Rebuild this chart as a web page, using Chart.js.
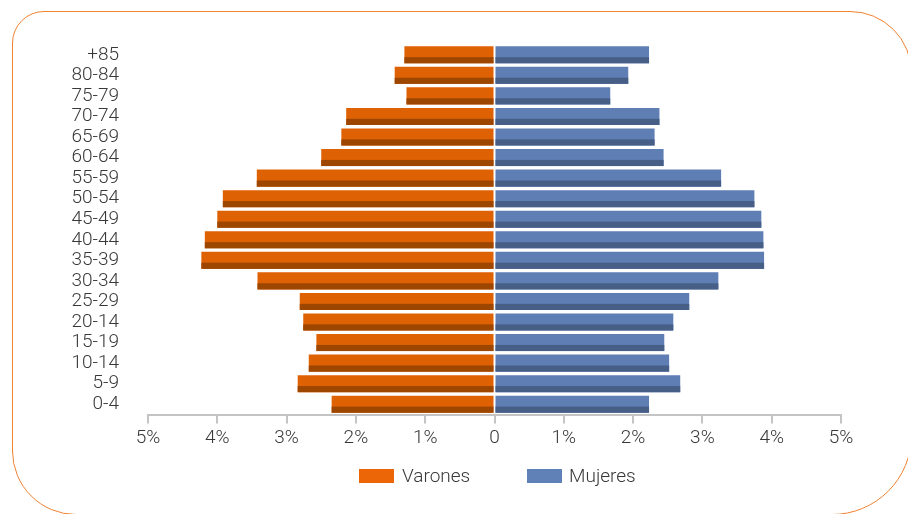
<!DOCTYPE html>
<html>
<head>
<meta charset="utf-8">
<script src="https://cdn.jsdelivr.net/npm/chart.js@4/dist/chart.umd.min.js"></script>
<style>
  html, body { margin: 0; padding: 0; background: #ffffff; }
  #wrap { position: relative; width: 908px; height: 514px; overflow: hidden; background: #fff; }
  #c { position: absolute; left: 0; top: 0; }
  #frame { position: absolute; left: 12px; top: 11px; width: 898px; height: 502px;
           border: 1.6px solid #F08232; border-radius: 32px 62px 80px 64px; pointer-events: none; }
  .lg { position: absolute; font-family: Roboto, "DejaVu Sans", sans-serif; font-weight: 300; font-size: 19px; color: #383838; line-height: 20px; }
  .sw { position: absolute; width: 35px; height: 14px; }
</style>
</head>
<body>
<div id="wrap">
  <canvas id="c" width="908" height="514"></canvas>
  <div id="frame"></div>
  <div class="sw" id="sw0" style="left:359px; top:469px;"></div>
  <div class="lg" id="lg0" style="left:402px; top:466px;"></div>
  <div class="sw" id="sw1" style="left:527px; top:469px;"></div>
  <div class="lg" id="lg1" style="left:569px; top:466px;"></div>
</div>
<script>
// ---- data ----
const categories = ["+85","80-84","75-79","70-74","65-69","60-64","55-59","50-54","45-49","40-44","35-39","30-34","25-29","20-14","15-19","10-14","5-9","0-4"];
const seriesNames = ["Varones", "Mujeres"];
const varones = [1.30, 1.44, 1.27, 2.14, 2.21, 2.50, 3.43, 3.92, 4.00, 4.18, 4.23, 3.42, 2.81, 2.76, 2.57, 2.68, 2.84, 2.35];
const mujeres = [2.23, 1.93, 1.67, 2.38, 2.31, 2.44, 3.27, 3.75, 3.85, 3.88, 3.89, 3.23, 2.81, 2.58, 2.45, 2.52, 2.68, 2.23];
const xTicks = [-5, -4, -3, -2, -1, 0, 1, 2, 3, 4, 5];

// ---- styles ----
const ORANGE = "#DE6104", ORANGE_DARK = "#9C4600";
const BLUE = "#5E7EB4", BLUE_DARK = "#475F87";
const LEG_ORANGE = "#EC6608", LEG_BLUE = "#6080B8";
const FONT = { family: "Roboto, 'DejaVu Sans', sans-serif", size: 19, weight: 300 };
const TEXT = "#383838";
const AXIS = "#c4c4c4";

document.getElementById("sw0").style.background = LEG_ORANGE;
document.getElementById("sw1").style.background = LEG_BLUE;
document.getElementById("lg0").textContent = seriesNames[0];
document.getElementById("lg1").textContent = seriesNames[1];

const shadePlugin = {
  id: "shade",
  afterDatasetsDraw(chart) {
    const ctx = chart.ctx;
    chart.data.datasets.forEach((ds, i) => {
      const meta = chart.getDatasetMeta(i);
      ctx.save();
      ctx.fillStyle = ds.shadeColor;
      meta.data.forEach(el => {
        const p = el.getProps(["x", "y", "base", "height"], true);
        const left = Math.min(p.x, p.base), right = Math.max(p.x, p.base);
        const bottom = p.y + p.height / 2;
        const h = p.height * 0.36;
        ctx.fillRect(left, bottom - h, right - left, h);
      });
      ctx.restore();
    });
  }
};

new Chart(document.getElementById("c"), {
  type: "bar",
  data: {
    labels: categories,
    datasets: [
      { label: seriesNames[0], data: varones.map(v => -v), backgroundColor: ORANGE, shadeColor: ORANGE_DARK,
        borderWidth: 0, barPercentage: 0.83, categoryPercentage: 1 },
      { label: seriesNames[1], data: mujeres, backgroundColor: BLUE, shadeColor: BLUE_DARK,
        borderWidth: 0, barPercentage: 0.83, categoryPercentage: 1 }
    ]
  },
  options: {
    indexAxis: "y",
    responsive: false,
    animation: false,
    devicePixelRatio: 1,
    layout: { padding: { left: 0, right: 67, top: 44.5, bottom: 59.5 } },
    plugins: { legend: { display: false }, tooltip: { enabled: false } },
    scales: {
      x: {
        type: "linear", stacked: true, min: -5, max: 5,
        afterBuildTicks(scale) { scale.ticks = xTicks.map(v => ({ value: v })); },
        afterFit(scale) { scale.height = 40; },
        grid: { drawOnChartArea: false, drawTicks: true, tickLength: 9, color: AXIS, lineWidth: 2 },
        border: { display: true, color: AXIS, width: 2 },
        ticks: { font: FONT, color: TEXT, padding: 3, maxRotation: 0,
                 callback: v => v === 0 ? "0" : Math.abs(v) + "%" }
      },
      y: {
        stacked: true,
        afterFit(scale) { scale.width = 148; },
        grid: { display: false, drawTicks: false },
        border: { display: false },
        ticks: { font: FONT, color: TEXT, padding: 29, autoSkip: false }
      }
    }
  },
  plugins: [shadePlugin]
});
</script>
</body>
</html>
